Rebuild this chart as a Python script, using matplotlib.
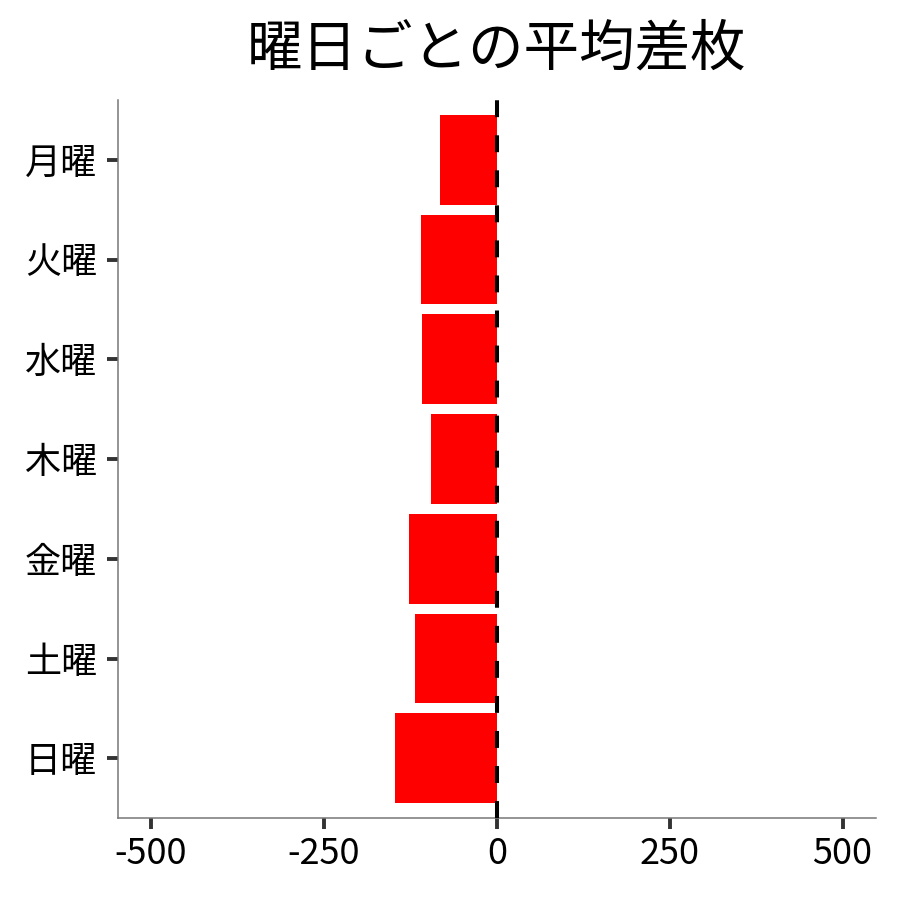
import matplotlib
matplotlib.use("Agg")
import matplotlib.pyplot as plt

plt.rcParams['font.family'] = ['Noto Sans CJK JP', 'DejaVu Sans']
plt.rcParams['axes.unicode_minus'] = False

# data
days = ['月曜', '火曜', '水曜', '木曜', '金曜', '土曜', '日曜']
avg_diff = [-82, -110, -108, -95, -127, -118, -147]
xticks = [-500, -250, 0, 250, 500]

fig = plt.figure(figsize=(9, 9), dpi=100)
ax = fig.add_axes([0.131, 0.091, 0.842, 0.798])

ypos = list(range(len(days)))
ax.barh(ypos, avg_diff, height=0.9, color='#ff0000', zorder=2)

y_lo, y_hi = len(days) - 0.4, -0.6
# dashed zero line, drawn from the bottom up
ax.plot([0, 0], [y_lo, y_hi], color='black', linewidth=2.9,
        linestyle=(0, (4.2, 4.5)), zorder=3, dash_capstyle='butt')

ax.set_yticks(ypos)
ax.set_yticklabels(days)
ax.set_ylim(y_lo, y_hi)
ax.set_xlim(-548, 548)
ax.set_xticks(xticks)
ax.set_xticklabels([str(v) for v in xticks])

ax.tick_params(axis='both', labelsize=26, length=8, width=2.8,
               color='#333333')
ax.tick_params(axis='y', pad=7)
ax.tick_params(axis='x', pad=5)
for s in ['top', 'right']:
    ax.spines[s].set_visible(False)
for s in ['left', 'bottom']:
    ax.spines[s].set_color('#777777')
    ax.spines[s].set_linewidth(1.1)

ax.set_title('曜日ごとの平均差枚', fontsize=40, pad=25)

fig.savefig('out.png', dpi=100)
